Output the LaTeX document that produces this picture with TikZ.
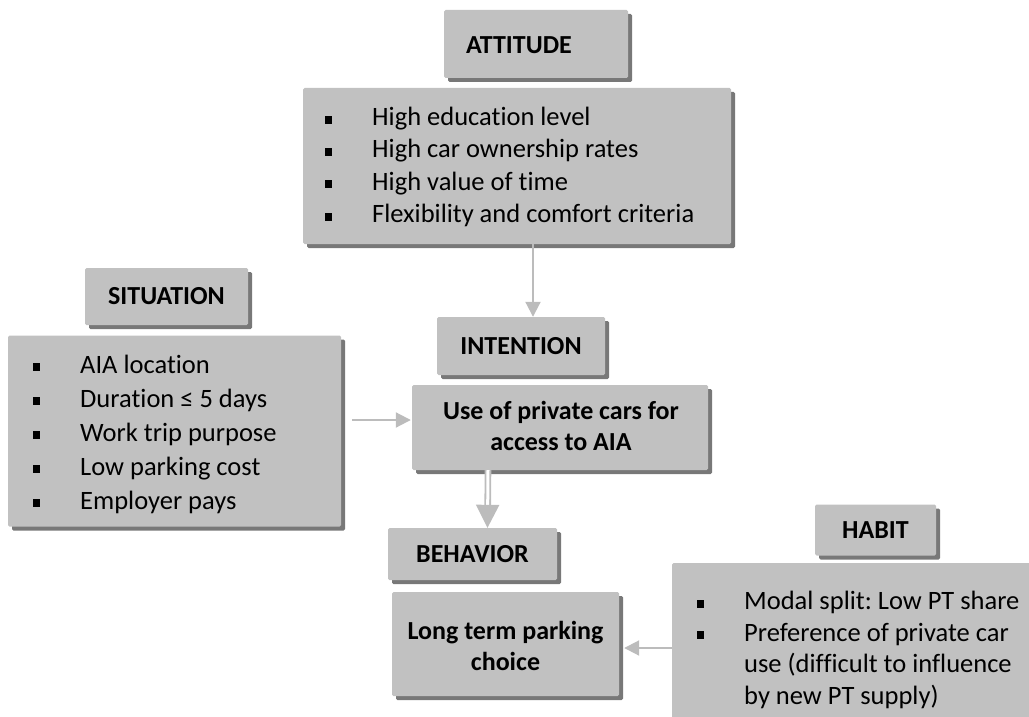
\documentclass[tikz,border=0pt]{standalone}
\usepackage{fontspec}
\setmainfont{Carlito}[Ligatures=NoCommon]
\usetikzlibrary{shadows,arrows.meta}
\frenchspacing
\definecolor{boxfill}{RGB}{193,193,193}
\definecolor{boxshadow}{RGB}{120,120,120}
\definecolor{arrowgray}{RGB}{188,188,188}
\newcommand{\bitem}{\makebox[47pt][l]{\rule[2pt]{7pt}{8pt}}}
\newcommand{\bindent}{\hspace*{47pt}}
\tikzset{
  titlebox/.style={fill=boxfill, draw=none, inner sep=0pt, rounded corners=1.5pt,
    font=\fontsize{26}{30}\selectfont\bfseries,
    drop shadow={shadow xshift=4pt, shadow yshift=-4pt, fill=boxshadow, opacity=1}},
  listbox/.style={fill=boxfill, draw=none, inner sep=0pt, rounded corners=1.5pt,
    drop shadow={shadow xshift=4pt, shadow yshift=-4pt, fill=boxshadow, opacity=1}},
  listtext/.style={align=left, anchor=west, inner sep=0pt,
    font=\fontsize{26.5}{32.3}\selectfont},
  boldtext/.style={align=center, inner sep=0pt,
    font=\fontsize{26}{31}\selectfont\bfseries},
  arr/.style={draw=arrowgray, line width=2pt, -{Triangle[width=15pt,length=15pt]}},
  dblarr/.style={draw=arrowgray, line width=1.8pt, double=white, double distance=3pt,
    -{Triangle[width=23pt,length=23pt]}}
}
\begin{document}
\begin{tikzpicture}[x=1pt,y=-1pt]
\useasboundingbox (0,0) rectangle (1029,717);
\clip (0,0) rectangle (1029,717);
% ATTITUDE
\node[titlebox, minimum width=184pt, minimum height=68pt] (attT) at (536,44) {};
\node[font=\fontsize{26}{30}\selectfont\bfseries, inner sep=0pt] (attTt) at (519,45) {ATTITUDE};
\node[listbox, minimum width=428pt, minimum height=156pt] (att) at (517,166) {};
\node[listtext] (attx) at (325,167) {\bitem High education level\\ \bitem High car ownership rates\\ \bitem High value of time\\ \bitem Flexibility and comfort criteria};
% SITUATION
\node[titlebox, minimum width=163pt, minimum height=57pt] (sitT) at (166.5,296.5) {SITUATION};
\node[listbox, minimum width=333pt, minimum height=191pt] (sit) at (174.5,431) {};
\node[listtext, font=\fontsize{26.5}{34}\selectfont] (sitx) at (33,434) {\bitem AIA location\\ \bitem Duration ≤ 5 days\\ \bitem Work trip purpose\\ \bitem Low parking cost\\ \bitem Employer pays};
% INTENTION
\node[titlebox, minimum width=168pt, minimum height=58pt] (intT) at (521,346) {INTENTION};
\node[listbox, minimum width=296pt, minimum height=85pt] (int) at (560,427.5) {};
\node[boldtext] (intx) at (561,426) {Use of private cars for\\ access to AIA};
% BEHAVIOR
\node[titlebox, minimum width=169pt, minimum height=52pt] (behT) at (472.5,554) {BEHAVIOR};
\node[listbox, minimum width=227pt, minimum height=104pt] (beh) at (505.5,644) {};
\node[boldtext] (behx) at (505.5,646) {Long term parking\\ choice};
% HABIT
\node[titlebox, minimum width=121pt, minimum height=51pt] (habT) at (875.5,530) {HABIT};
\node[listbox, minimum width=380pt, minimum height=180pt] (hab) at (862,653) {};
\node[listtext, font=\fontsize{26.5}{31.5}\selectfont] (habx) at (697,650) {\bitem Modal split: Low PT share\\ \bitem Preference of private car\\ \bindent use (difficult to influence\\ \bindent by new PT supply)};
% connectors
\draw[arr] ([xshift=16pt]att.south) -- ([xshift=12pt]intT.north);
\draw[arr] ([xshift=11pt,yshift=11pt]sit.east) -- ([xshift=-1pt,yshift=7.5pt]int.west);
\draw[dblarr] ([xshift=-72pt]int.south) -- ([xshift=15pt]behT.north);
\draw[arr] ([yshift=5pt]hab.west) -- ([xshift=5pt,yshift=-4pt]beh.east);
\end{tikzpicture}
\end{document}
